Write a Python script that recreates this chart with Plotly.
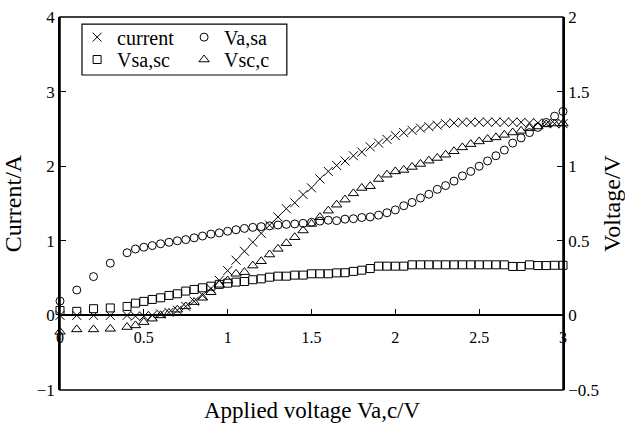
import plotly.graph_objects as go

# Applied voltage Va,c (V)
applied_v = [0.0, 0.1, 0.2, 0.3, 0.4, 0.45, 0.5, 0.55, 0.6, 0.65, 0.7, 0.75, 0.8, 0.85,
             0.9, 0.95, 1.0, 1.05, 1.1, 1.15, 1.2, 1.25, 1.3, 1.35, 1.4, 1.45, 1.5, 1.55,
             1.6, 1.65, 1.7, 1.75, 1.8, 1.85, 1.9, 1.95, 2.0, 2.05, 2.1, 2.15, 2.2, 2.25,
             2.3, 2.35, 2.4, 2.45, 2.5, 2.55, 2.6, 2.65, 2.7, 2.75, 2.8, 2.85, 2.9, 2.95, 3.0]

# Current (A), left axis
current = [0.0, 0.0, 0.0, 0.0, 0.0, -0.01, -0.01, 0.0, 0.02, 0.04, 0.07, 0.12, 0.19, 0.27,
           0.36, 0.47, 0.6, 0.74, 0.86, 0.98, 1.10, 1.21, 1.32, 1.43, 1.51, 1.62, 1.71, 1.83,
           1.93, 2.01, 2.07, 2.14, 2.19, 2.26, 2.31, 2.36, 2.41, 2.45, 2.48, 2.51, 2.53, 2.55,
           2.57, 2.58, 2.59, 2.59, 2.59, 2.59, 2.59, 2.59, 2.59, 2.59, 2.58, 2.58, 2.57, 2.57, 2.57]

# Voltages (V), right axis
v_a_sa = [0.096, 0.17, 0.26, 0.35, 0.42, 0.445, 0.457, 0.468, 0.48, 0.49, 0.50, 0.508, 0.52, 0.532,
          0.545, 0.553, 0.564, 0.574, 0.583, 0.59, 0.595, 0.6, 0.606, 0.61, 0.613, 0.617, 0.624, 0.632,
          0.638, 0.635, 0.645, 0.648, 0.656, 0.66, 0.672, 0.688, 0.707, 0.735, 0.757, 0.787, 0.812, 0.845,
          0.87, 0.9, 0.935, 0.965, 1.0, 1.035, 1.07, 1.108, 1.155, 1.19, 1.225, 1.26, 1.293, 1.335, 1.367]

v_sa_sc = [0.033, 0.027, 0.045, 0.05, 0.06, 0.082, 0.094, 0.107, 0.118, 0.134, 0.145, 0.163, 0.174, 0.185,
           0.196, 0.208, 0.216, 0.223, 0.227, 0.239, 0.245, 0.256, 0.263, 0.263, 0.27, 0.27, 0.279, 0.279,
           0.279, 0.285, 0.286, 0.295, 0.303, 0.314, 0.33, 0.33, 0.33, 0.33, 0.339, 0.339, 0.339, 0.339,
           0.339, 0.339, 0.339, 0.339, 0.339, 0.339, 0.339, 0.339, 0.328, 0.328, 0.339, 0.334, 0.334, 0.336, 0.336]

v_sc_c = [-0.11, -0.094, -0.094, -0.09, -0.078, -0.067, -0.045, -0.022, 0.0, 0.016, 0.038, 0.06, 0.089, 0.118,
          0.155, 0.205, 0.234, 0.279, 0.29, 0.334, 0.363, 0.408, 0.446, 0.484, 0.524, 0.569, 0.613, 0.658,
          0.702, 0.742, 0.776, 0.818, 0.854, 0.866, 0.914, 0.943, 0.965, 0.975, 0.995, 1.015, 1.037, 1.055,
          1.077, 1.1, 1.126, 1.148, 1.166, 1.182, 1.193, 1.21, 1.226, 1.237, 1.255, 1.266, 1.28, 1.286, 1.286]

x_ticks = [0, 0.5, 1, 1.5, 2, 2.5, 3]
x_tick_text = ["0", "0.5", "1", "1.5", "2", "2.5", "3"]

SERIF = "Liberation Serif"
INK = "black"

fig = go.Figure()

def add_series(x, y, name, symbol, size, axis, legend):
    fig.add_trace(go.Scatter(
        x=x, y=y, name=name, mode="markers", yaxis=axis, legend=legend,
        cliponaxis=False,
        marker=dict(symbol=symbol, size=size, color=INK,
                    line=dict(color=INK, width=1)),
    ))

add_series(applied_v, current, "current", "x-thin-open", 9, "y", "legend")
add_series(applied_v, v_a_sa, "Va,sa", "circle-open", 8, "y2", "legend")
add_series(applied_v, v_sa_sc, "Vsa,sc", "square-open", 8, "y2", "legend2")
add_series(applied_v, v_sc_c, "Vsc,c", "triangle-up-open", 9, "y2", "legend2")

legend_common = dict(
    orientation="h", xanchor="left", yanchor="middle",
    entrywidth=62, entrywidthmode="pixels",
    bgcolor="rgba(0,0,0,0)", borderwidth=0,
    font=dict(family=SERIF, size=20, color=INK),
    itemclick=False, itemdoubleclick=False,
)

fig.update_layout(
    width=625, height=425,
    margin=dict(l=60, r=62, t=17, b=35),
    paper_bgcolor="white", plot_bgcolor="white",
    font=dict(family=SERIF, size=16, color=INK),
    showlegend=True,
    legend=dict(x=0.034, y=0.946, **legend_common),
    legend2=dict(x=0.034, y=0.886, **legend_common),
    xaxis=dict(
        range=[0, 3], tickvals=x_ticks, ticktext=x_tick_text,
        anchor="free", position=0.2, automargin=False,
        showline=True, linecolor=INK, linewidth=1.5,
        ticks="inside", ticklen=6, tickwidth=1.2, tickcolor=INK,
        showgrid=False, zeroline=False,
        tickfont=dict(family=SERIF, size=16, color=INK),
        ticklabelstandoff=8,
    ),
    yaxis=dict(
        range=[-1, 4], dtick=1, tick0=0, automargin=False,
        showline=True, linecolor=INK, linewidth=1.5,
        ticks="inside", ticklen=6, tickwidth=1.2, tickcolor=INK,
        showgrid=False, zeroline=False,
        tickfont=dict(family=SERIF, size=17, color=INK),
        title=dict(text="Current/A", font=dict(family=SERIF, size=24, color=INK), standoff=8),
    ),
    yaxis2=dict(
        range=[-0.5, 2], dtick=0.5, tick0=0, automargin=False,
        overlaying="y", side="right", anchor="x",
        showline=True, linecolor=INK, linewidth=1.5,
        ticks="inside", ticklen=6, tickwidth=1.2, tickcolor=INK,
        showgrid=False, zeroline=False,
        tickfont=dict(family=SERIF, size=17, color=INK),
        title=dict(text="Voltage/V", font=dict(family=SERIF, size=24, color=INK), standoff=6),
    ),
    shapes=[
        # plot frame
        dict(type="rect", xref="paper", yref="paper", x0=0, x1=1, y0=0, y1=1,
             line=dict(color=INK, width=1.5), fillcolor="rgba(0,0,0,0)", layer="above"),
        # legend frame
        dict(type="rect", xref="paper", yref="paper", x0=0.0437, x1=0.451, y0=0.8445, y1=0.981,
             line=dict(color=INK, width=1.2), fillcolor="rgba(0,0,0,0)", layer="above"),
    ],
    annotations=[
        dict(text="Applied voltage Va,c/V", xref="paper", yref="paper", x=0.5, y=-0.054,
             xanchor="center", yanchor="middle", showarrow=False,
             font=dict(family=SERIF, size=23, color=INK)),
    ],
)

fig.write_html("out.html")
